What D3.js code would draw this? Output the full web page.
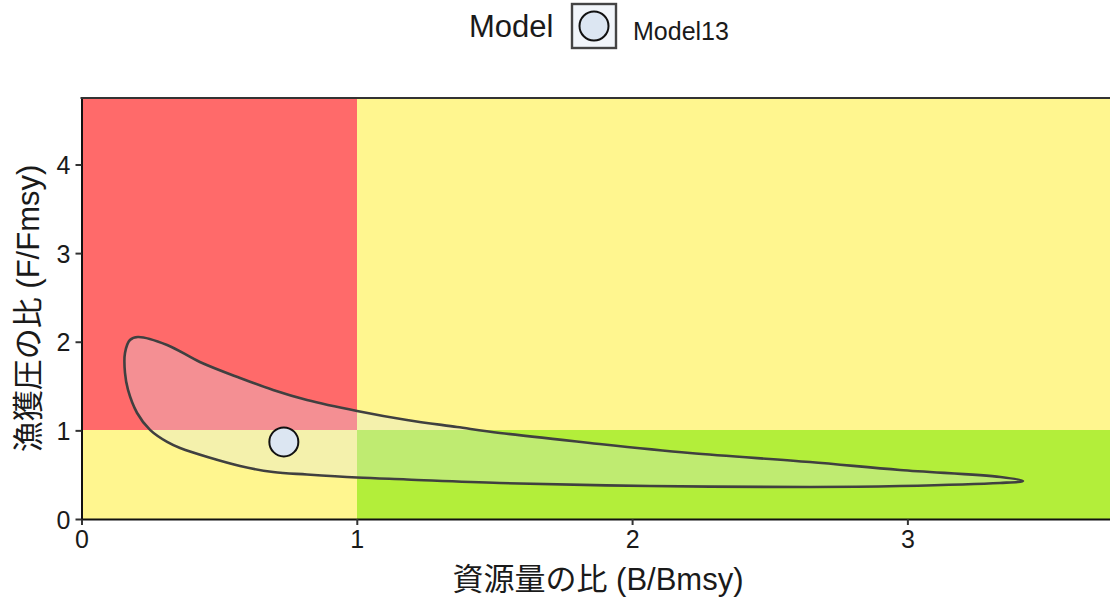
<!DOCTYPE html>
<html>
<head>
<meta charset="utf-8">
<script src="https://cdn.jsdelivr.net/npm/d3@7"></script>
<style>
  html, body { margin: 0; padding: 0; background: #fff; }
  svg text { font-family: "Liberation Sans", Arial, "Noto Sans CJK JP", sans-serif; fill: #1a1a1a; }
</style>
</head>
<body>
<svg id="chart" width="1110" height="601"></svg>
<script>
// Kobe plot: stock ratio (B/Bmsy) against fishing-pressure ratio (F/Fmsy)
const xTicks = [0, 1, 2, 3];
const yTicks = [0, 1, 2, 3, 4];
const xDomain = [0, 3.736];
const yDomain = [0, 4.75];

// Kobe quadrants: B range, F range and colour
const zoneB0 = [0, 0, 1, 1];
const zoneB1 = [1, 1, 99, 99];
const zoneF0 = [0, 1, 0, 1];
const zoneF1 = [1, 99, 1, 99];
const zoneColor = ["#FFF68F", "#FF6A6A", "#B3EE3A", "#FFF68F"];

// confidence region outline (B/Bmsy, F/Fmsy)
const contourB = [3.42, 3.338, 2.973, 2.646, 2.21, 1.847, 1.52, 1.364, 1.182, 1.001, 0.819, 0.696, 0.576, 0.43, 0.311, 0.205, 0.176, 0.158, 0.158, 0.169, 0.202, 0.249, 0.311, 0.358, 0.576, 0.696, 0.819, 1.001, 1.182, 1.52, 2.065, 2.646, 2.973, 3.336];
const contourF = [0.429, 0.474, 0.553, 0.643, 0.745, 0.858, 0.971, 1.038, 1.117, 1.219, 1.343, 1.456, 1.591, 1.772, 1.964, 2.054, 2.02, 1.874, 1.648, 1.456, 1.196, 1.005, 0.869, 0.801, 0.598, 0.53, 0.502, 0.468, 0.446, 0.406, 0.372, 0.361, 0.372, 0.406];

// current status estimate
const modelNames = ["Model13"];
const pointB = [0.735];
const pointF = [0.87];

const xTitle = "資源量の比 (B/Bmsy)";
const yTitle = "漁獲圧の比 (F/Fmsy)";
const legendTitle = "Model";

const svg = d3.select("#chart");
const mLeft = 81.5, mRight = 1110, mTop = 98, mBottom = 519;

const x = d3.scaleLinear().domain(xDomain).range([mLeft, mRight]);
const y = d3.scaleLinear().domain(yDomain).range([mBottom, mTop]);

svg.append("defs").append("clipPath").attr("id", "panel")
  .append("rect").attr("x", mLeft).attr("y", mTop)
  .attr("width", mRight - mLeft).attr("height", mBottom - mTop);

const panel = svg.append("g").attr("clip-path", "url(#panel)");

// quadrant backgrounds
panel.selectAll("rect.zone").data(zoneColor).join("rect")
  .attr("class", "zone")
  .attr("x", (d, i) => x(zoneB0[i]))
  .attr("width", (d, i) => x(Math.min(zoneB1[i], xDomain[1])) - x(zoneB0[i]))
  .attr("y", (d, i) => y(Math.min(zoneF1[i], yDomain[1])))
  .attr("height", (d, i) => y(zoneF0[i]) - y(Math.min(zoneF1[i], yDomain[1])))
  .attr("fill", d => d)
  .attr("shape-rendering", "crispEdges");

// confidence region
const pts = contourB.map((b, i) => [b, contourF[i]]);
const outline = d3.line().x(d => x(d[0])).y(d => y(d[1])).curve(d3.curveCatmullRomClosed.alpha(0.5));
panel.append("path")
  .attr("d", outline(pts))
  .attr("fill", "#DCE6F2")
  .attr("fill-opacity", 0.3)
  .attr("stroke", "#404040")
  .attr("stroke-width", 2.6);

// point estimate
panel.selectAll("circle.pt").data(pointB).join("circle")
  .attr("class", "pt")
  .attr("cx", d => x(d))
  .attr("cy", (d, i) => y(pointF[i]))
  .attr("r", 14.5)
  .attr("fill", "#DCE6F2")
  .attr("stroke", "#111")
  .attr("stroke-width", 2);

// axes
const xAxis = svg.append("g").attr("transform", `translate(0,${mBottom})`)
  .call(d3.axisBottom(x).tickValues(xTicks).tickFormat(d3.format("d")).tickSizeInner(6).tickSizeOuter(0).tickPadding(5));
const yAxis = svg.append("g").attr("transform", `translate(${mLeft},0)`)
  .call(d3.axisLeft(y).tickValues(yTicks).tickFormat(d3.format("d")).tickSizeInner(6).tickSizeOuter(0).tickPadding(5));
[xAxis, yAxis].forEach(a => {
  a.select(".domain").attr("stroke", "#111").attr("stroke-width", 2);
  a.selectAll(".tick line").attr("stroke", "#333").attr("stroke-width", 2);
  a.selectAll(".tick text").attr("font-size", 25).attr("fill", "#1a1a1a");
});
yAxis.selectAll(".tick text").attr("dy", "0.36em");

// top border
svg.append("line")
  .attr("x1", mLeft - 1).attr("x2", mRight + 2)
  .attr("y1", mTop).attr("y2", mTop)
  .attr("stroke", "#333").attr("stroke-width", 2);

// axis titles
svg.append("text")
  .attr("x", 598).attr("y", 590)
  .attr("text-anchor", "middle")
  .attr("font-size", 31)
  .text(xTitle);
svg.append("text")
  .attr("transform", `translate(39,${(mTop + mBottom) / 2}) rotate(-90)`)
  .attr("text-anchor", "middle")
  .attr("font-size", 31)
  .text(yTitle);

// legend
const lg = svg.append("g");
lg.append("text")
  .attr("x", 469).attr("y", 37)
  .attr("font-size", 31)
  .text(legendTitle);
const keys = lg.selectAll("g.key").data(modelNames).join("g")
  .attr("class", "key")
  .attr("transform", (d, i) => `translate(${572 + i * 160},4)`);
keys.append("rect")
  .attr("width", 44).attr("height", 44)
  .attr("fill", "#F1F5FA")
  .attr("stroke", "#444")
  .attr("stroke-width", 2.4);
keys.append("circle")
  .attr("cx", 22).attr("cy", 22).attr("r", 14.5)
  .attr("fill", "#DCE6F2")
  .attr("stroke", "#111")
  .attr("stroke-width", 2);
keys.append("text")
  .attr("x", 61).attr("y", 36)
  .attr("font-size", 25)
  .text(d => d);
</script>
</body>
</html>
